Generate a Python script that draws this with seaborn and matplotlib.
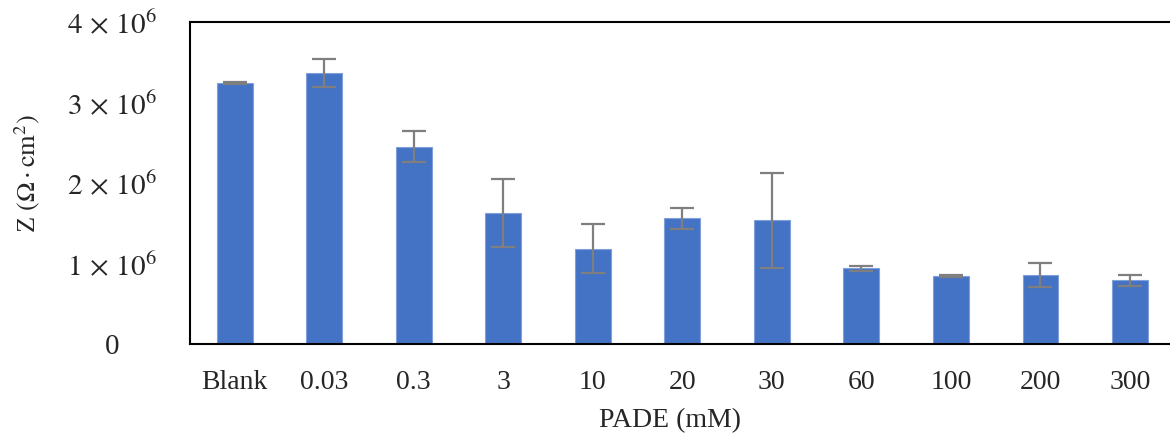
import matplotlib
matplotlib.use("Agg")
import matplotlib.pyplot as plt
import seaborn as sns
import numpy as np

categories = ["Blank", "0.03", "0.3", "3", "10", "20", "30", "60", "100", "200", "300"]
values = [3.24e6, 3.37e6, 2.45e6, 1.63e6, 1.185e6, 1.56e6, 1.535e6, 0.938e6, 0.848e6, 0.86e6, 0.79e6]
errors = [0.01e6, 0.175e6, 0.19e6, 0.42e6, 0.30e6, 0.13e6, 0.59e6, 0.035e6, 0.012e6, 0.15e6, 0.07e6]
ytick_vals = [0, 1e6, 2e6, 3e6, 4e6]
ytick_labels = ["0", r"$1\,\times\,10^{6}$", r"$2\,\times\,10^{6}$", r"$3\,\times\,10^{6}$", r"$4\,\times\,10^{6}$"]

sns.set_style("white")
plt.rcParams['font.family'] = ['Liberation Serif', 'DejaVu Serif']
plt.rcParams['mathtext.fontset'] = 'stix'

fig = plt.figure(figsize=(11.7, 4.37), dpi=100)
ax = fig.add_axes([190/1170, (437-344)/437, 1 - 190/1170 + 0.004, (344-22)/437])

sns.barplot(x=categories, y=values, color="#4472C4", width=0.4, ax=ax,
            edgecolor="#7FA0DA", linewidth=0.8, saturation=1)
ax.errorbar(x=np.arange(len(categories)), y=values, yerr=errors, fmt='none',
            ecolor="#7F7F7F", elinewidth=1.6, capsize=8.5, capthick=1.6)

ax.set_xlim(-0.5, 10.5)
ax.set_ylim(0, 4e6)
ax.set_yticks(ytick_vals)
ax.set_yticklabels(ytick_labels, fontsize=21, ha='center')
ax.tick_params(axis='y', length=0, pad=56)
ax.tick_params(axis='x', length=0, pad=19, labelsize=20)

for s in ['left', 'top', 'bottom']:
    ax.spines[s].set_visible(True)
    ax.spines[s].set_color('black')
    ax.spines[s].set_linewidth(1.5)
ax.spines['right'].set_visible(False)

ax.set_xlabel("PADE (mM)", fontsize=20)
ax.xaxis.set_label_coords(0.487, -0.2)
ax.set_ylabel(r"Z $(\Omega\cdot\mathrm{cm}^2)$", fontsize=19)
ax.yaxis.set_label_coords(-0.150, 0.53)

fig.savefig("out.png", dpi=100)
